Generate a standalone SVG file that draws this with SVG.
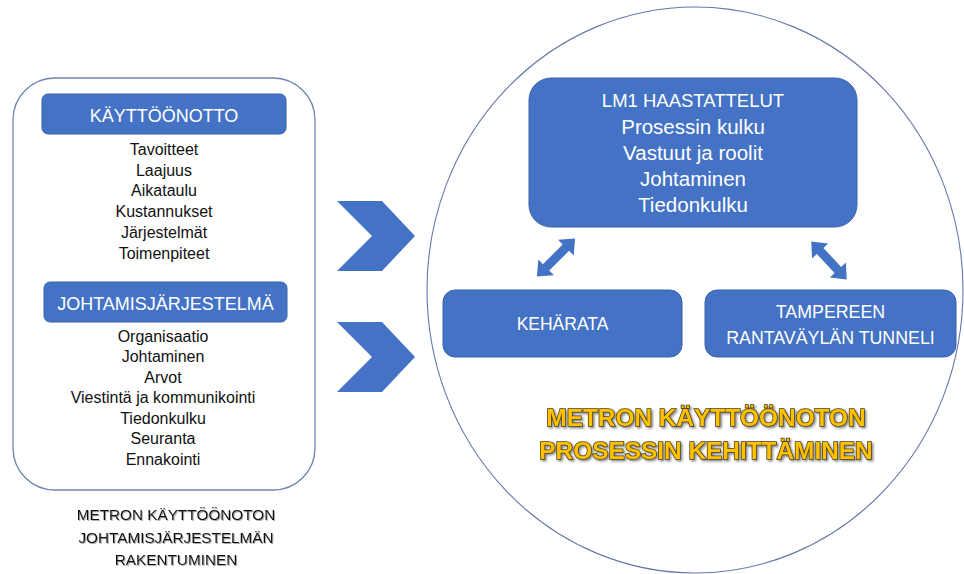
<svg xmlns="http://www.w3.org/2000/svg" width="964" height="574" viewBox="0 0 964 574">
  <defs>
    <style>
      .panel { fill: #ffffff; stroke: #6f82b5; stroke-width: 1.3; }
      .ring { fill: none; stroke: #6677a8; stroke-width: 1.1; }
      .box { fill: #4472c4; stroke: #3b63ad; stroke-width: 1; }
      .shape { fill: #4472c4; }
      .wt { fill: #ffffff; font-family: "Liberation Sans", Arial, sans-serif; text-anchor: middle; }
      .bt { fill: #111111; font-family: "Liberation Sans", Arial, sans-serif; text-anchor: middle; }
      .list { font-size: 16px; }
      .head { font-size: 18px; }
      .cap { font-size: 15.3px; }
      .title { font-family: "Liberation Sans", Arial, sans-serif; font-weight: bold; font-size: 24.4px;
               fill: #ffc000; stroke: #4a3c00; stroke-width: 1.5; paint-order: stroke; text-anchor: middle; }
    </style>
    <filter id="soft" x="-5%" y="-20%" width="110%" height="150%">
      <feDropShadow dx="1" dy="1" stdDeviation="0.7" flood-color="#777777" flood-opacity="0.6"/>
    </filter>
    <filter id="glow" x="-5%" y="-20%" width="110%" height="150%">
      <feDropShadow dx="1.6" dy="1.6" stdDeviation="0.9" flood-color="#666666" flood-opacity="0.8"/>
    </filter>
  </defs>

  <rect width="964" height="574" fill="#ffffff"/>

  <!-- left panel: deployment / management system -->
  <g id="left-panel">
    <rect class="panel" x="13" y="78" width="302" height="412" rx="42" ry="42"/>
  </g>

  <g id="kayttoonotto">
    <rect class="box" x="42" y="94" width="244" height="40" rx="6"/>
    <text class="wt head" x="164" y="121.5">KÄYTTÖÖNOTTO</text>
    <g class="bt list">
      <text x="164" y="155">Tavoitteet</text>
      <text x="164" y="175.7">Laajuus</text>
      <text x="164" y="196.4">Aikataulu</text>
      <text x="164" y="217.1">Kustannukset</text>
      <text x="164" y="237.8">Järjestelmät</text>
      <text x="164" y="258.5">Toimenpiteet</text>
    </g>
  </g>

  <g id="johtamisjarjestelma">
    <rect class="box" x="44" y="282" width="243" height="40" rx="6"/>
    <text class="wt head" x="165.5" y="309.5">JOHTAMISJÄRJESTELMÄ</text>
    <g class="bt list">
      <text x="163" y="341.5">Organisaatio</text>
      <text x="163" y="362">Johtaminen</text>
      <text x="163" y="382.5">Arvot</text>
      <text x="163" y="403">Viestintä ja kommunikointi</text>
      <text x="163" y="423.5">Tiedonkulku</text>
      <text x="163" y="444">Seuranta</text>
      <text x="163" y="464.5">Ennakointi</text>
    </g>
  </g>

  <g id="left-caption" class="bt cap" filter="url(#soft)">
    <text x="176" y="520">METRON KÄYTTÖÖNOTON</text>
    <text x="176" y="542.5">JOHTAMISJÄRJESTELMÄN</text>
    <text x="176" y="565">RAKENTUMINEN</text>
  </g>

  <!-- chevrons pointing into the process circle -->
  <g id="chevrons" class="shape">
    <polygon points="337,201 382,201 415,236 382,271 337,271 372,236"/>
    <polygon points="337,322 382,322 415,357 382,392 337,392 372,357"/>
  </g>

  <!-- process circle -->
  <g id="process-circle">
    <ellipse class="ring" cx="695" cy="290" rx="268" ry="283"/>
  </g>

  <g id="lm1">
    <rect class="box" x="529" y="78" width="328" height="149" rx="22"/>
    <text class="wt" x="693" y="107" font-size="18.5">LM1 HAASTATTELUT</text>
    <text class="wt" x="693" y="133.5" font-size="20.5">Prosessin kulku</text>
    <text class="wt" x="693" y="159.5" font-size="20.5">Vastuut ja roolit</text>
    <text class="wt" x="693" y="185.8" font-size="20.5">Johtaminen</text>
    <text class="wt" x="693" y="212" font-size="20.5">Tiedonkulku</text>
  </g>

  <g id="keharata">
    <rect class="box" x="443" y="290" width="239" height="67" rx="12"/>
    <text class="wt" x="562.5" y="330" font-size="17.5">KEHÄRATA</text>
  </g>

  <g id="tampere">
    <rect class="box" x="705" y="290" width="251" height="67" rx="12"/>
    <text class="wt" x="830.5" y="317.5" font-size="17.8">TAMPEREEN</text>
    <text class="wt" x="830.5" y="344" font-size="17.8">RANTAVÄYLÄN TUNNELI</text>
  </g>

  <!-- two-way links between LM1 and the projects -->
  <g id="connectors" class="shape">
    <path transform="translate(556,257.5) rotate(-45)" d="M-27,0 L-14,-11 L-14,-4.5 L14,-4.5 L14,-11 L27,0 L14,11 L14,4.5 L-14,4.5 L-14,11 Z"/>
    <path transform="translate(829,260.5) rotate(47)" d="M-26,0 L-13,-11 L-13,-4.5 L13,-4.5 L13,-11 L26,0 L13,11 L13,4.5 L-13,4.5 L-13,11 Z"/>
  </g>

  <g id="process-title" filter="url(#glow)">
    <text class="title" x="706" y="425.5">METRON KÄYTTÖÖNOTON</text>
    <text class="title" x="706" y="459">PROSESSIN KEHITTÄMINEN</text>
  </g>
</svg>
